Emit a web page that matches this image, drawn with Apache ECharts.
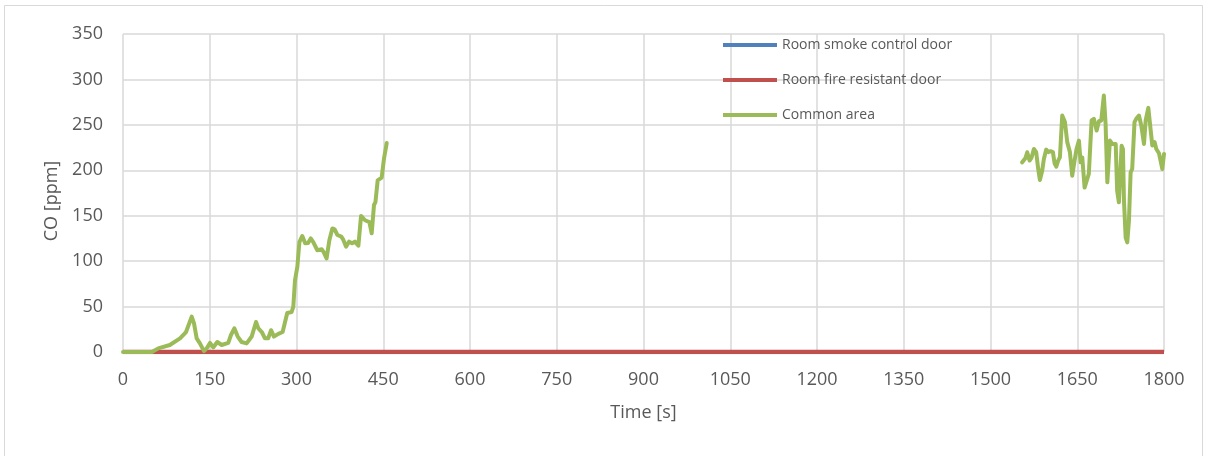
<!DOCTYPE html>
<html>
<head>
<meta charset="utf-8">
<script src="https://cdn.jsdelivr.net/npm/echarts@6/dist/echarts.min.js"></script>
<style>html,body{margin:0;padding:0;background:#fff;}#c{width:1208px;height:456px;}</style>
</head>
<body>
<div id="c"></div>
<script>
var seriesNames = ['Room smoke control door', 'Room fire resistant door', 'Common area'];
var xTicks = [0, 150, 300, 450, 600, 750, 900, 1050, 1200, 1350, 1500, 1650, 1800];
var yTicks = [0, 50, 100, 150, 200, 250, 300, 350];

var smokeDoor = [[0, 0], [300, 0], [600, 0], [900, 0], [1200, 0], [1500, 0], [1800, 0]];
var fireDoor = [[0, 0], [300, 0], [600, 0], [900, 0], [1200, 0], [1500, 0], [1800, 0]];

var commonAreaEarly = [
  [0, 0], [50, 0], [61, 4], [81, 7.7], [98.6, 15], [109, 22], [118.8, 39], [122.8, 31.5],
  [127.4, 15], [133, 9.5], [140, 1], [144.7, 4], [150.4, 10], [156, 5], [163, 11],
  [170.6, 7.7], [182, 10], [186.7, 18.7], [192.5, 26], [198.4, 17], [205, 11], [213.8, 9.5],
  [222.5, 17], [225.5, 18.7], [230, 33], [234, 26], [240, 22], [245.5, 15], [251, 15],
  [256, 24], [261, 17], [268.6, 20], [276, 22], [284, 43], [291.6, 44], [294.5, 50],
  [297.4, 79], [301.5, 94], [305, 121], [310, 127.7], [315, 119.6], [320, 120], [324.6, 125],
  [329, 121], [336, 112], [343.7, 113], [347, 110], [352, 103], [356.8, 123], [362, 136],
  [366, 135], [370.6, 128.8], [377.5, 127], [380.5, 124], [385.6, 116], [391, 121.5],
  [396, 119.6], [401, 121.5], [407, 117], [411.6, 149.7], [418.5, 145], [426, 143],
  [430, 130.6], [434, 161.8], [436.5, 165], [440.4, 189], [447.3, 192], [451.3, 213], [456, 230]
];

var commonAreaLate = [
  [1554.8, 208.8], [1560.6, 213.6], [1563.5, 219.9], [1567.5, 210.7], [1571, 214], [1575, 223.5],
  [1579, 220], [1582.5, 201.5], [1585.4, 189.3], [1589.4, 199.6], [1592.3, 212.5], [1596.3, 222.8],
  [1599.8, 220], [1603.8, 221], [1607.9, 220], [1610.8, 207.7], [1613.7, 204], [1617, 210.7],
  [1620, 214.3], [1624, 260.3], [1628.7, 253], [1632.7, 231], [1637.3, 220], [1641.3, 194],
  [1645.4, 210.7], [1648.8, 223.5], [1652.9, 232.7], [1655.8, 208.8], [1658.7, 214.3],
  [1662.7, 181], [1666, 179.4], [1670, 196], [1674.8, 254.8], [1678.8, 256.6], [1683.5, 243.8],
  [1687.5, 254], [1691.5, 254.8], [1696, 282.3], [1699, 251], [1702, 186.8], [1706.5, 232.7],
  [1710.6, 229], [1713.5, 231], [1716.5, 229], [1719, 177.6], [1722, 164.7], [1726.7, 227],
  [1729, 223.5], [1730.8, 166.5], [1733.7, 126], [1736.5, 120.6], [1739.4, 144.5],
  [1742.3, 197.8], [1745, 201.5], [1749, 253], [1752, 256.6], [1756.7, 260.3], [1760.7, 249.3],
  [1765.4, 229], [1768.3, 254.8], [1772.9, 268.7], [1777, 243.8], [1779.8, 227.2], [1783.8, 231],
  [1786.7, 223.5], [1791.3, 218.8], [1797, 201.5], [1800, 218]
];

var colors = ['#4F81BD', '#C0504D', '#9BBB59'];
var font = 'Open Sans';
var labelColor = '#595959';

var chart = echarts.init(document.getElementById('c'), null, {renderer: 'canvas'});
chart.setOption({
  animation: false,
  backgroundColor: '#ffffff',
  graphic: [{
    type: 'rect',
    shape: {x: 4.5, y: 5.5, width: 1198, height: 460},
    style: {fill: 'none', stroke: '#d9d9d9', lineWidth: 1},
    silent: true
  }],
  grid: {left: 123, right: 44, top: 34, bottom: 104, containLabel: false},
  legend: {
    data: seriesNames,
    orient: 'vertical',
    left: 723,
    top: 38,
    padding: 0,
    itemWidth: 54,
    itemHeight: 4,
    itemGap: 21,
    icon: 'rect',
    textStyle: {fontFamily: font, fontSize: 14, color: labelColor, lineHeight: 14}
  },
  xAxis: {
    type: 'value',
    min: xTicks[0],
    max: xTicks[xTicks.length - 1],
    interval: xTicks[1] - xTicks[0],
    name: 'Time [s]',
    nameLocation: 'middle',
    nameGap: 52,
    nameTextStyle: {fontFamily: font, fontSize: 18, color: labelColor},
    axisLine: {show: false},
    axisTick: {show: false},
    axisLabel: {fontFamily: font, fontSize: 18, color: labelColor, margin: 19,
      formatter: function (v) { return String(v); }},
    splitLine: {show: true, lineStyle: {color: '#d9d9d9', width: 1.5}}
  },
  yAxis: {
    type: 'value',
    min: yTicks[0],
    max: yTicks[yTicks.length - 1],
    interval: yTicks[1] - yTicks[0],
    name: 'CO [ppm]',
    nameLocation: 'middle',
    nameGap: 60,
    nameTextStyle: {fontFamily: font, fontSize: 18, color: labelColor, padding: [0, 16, 0, 0]},
    axisLine: {show: false},
    axisTick: {show: false},
    axisLabel: {fontFamily: font, fontSize: 18, color: labelColor, margin: 20,
      formatter: function (v) { return String(v); }},
    splitLine: {show: true, lineStyle: {color: '#d9d9d9', width: 1.5}}
  },
  series: [
    {name: seriesNames[0], type: 'line', data: smokeDoor, showSymbol: false, symbol: 'none',
     lineStyle: {color: colors[0], width: 4}, itemStyle: {color: colors[0]}, z: 2},
    {name: seriesNames[1], type: 'line', data: fireDoor, showSymbol: false, symbol: 'none',
     lineStyle: {color: colors[1], width: 4.5}, itemStyle: {color: colors[1]}, z: 3},
    {name: seriesNames[2], type: 'line', data: commonAreaEarly, showSymbol: false, symbol: 'none',
     lineStyle: {color: colors[2], width: 4, join: 'round', cap: 'round'}, itemStyle: {color: colors[2]}, z: 4},
    {name: seriesNames[2], type: 'line', data: commonAreaLate, showSymbol: false, symbol: 'none',
     lineStyle: {color: colors[2], width: 4, join: 'round', cap: 'round'}, itemStyle: {color: colors[2]}, z: 4}
  ]
});
</script>
</body>
</html>
